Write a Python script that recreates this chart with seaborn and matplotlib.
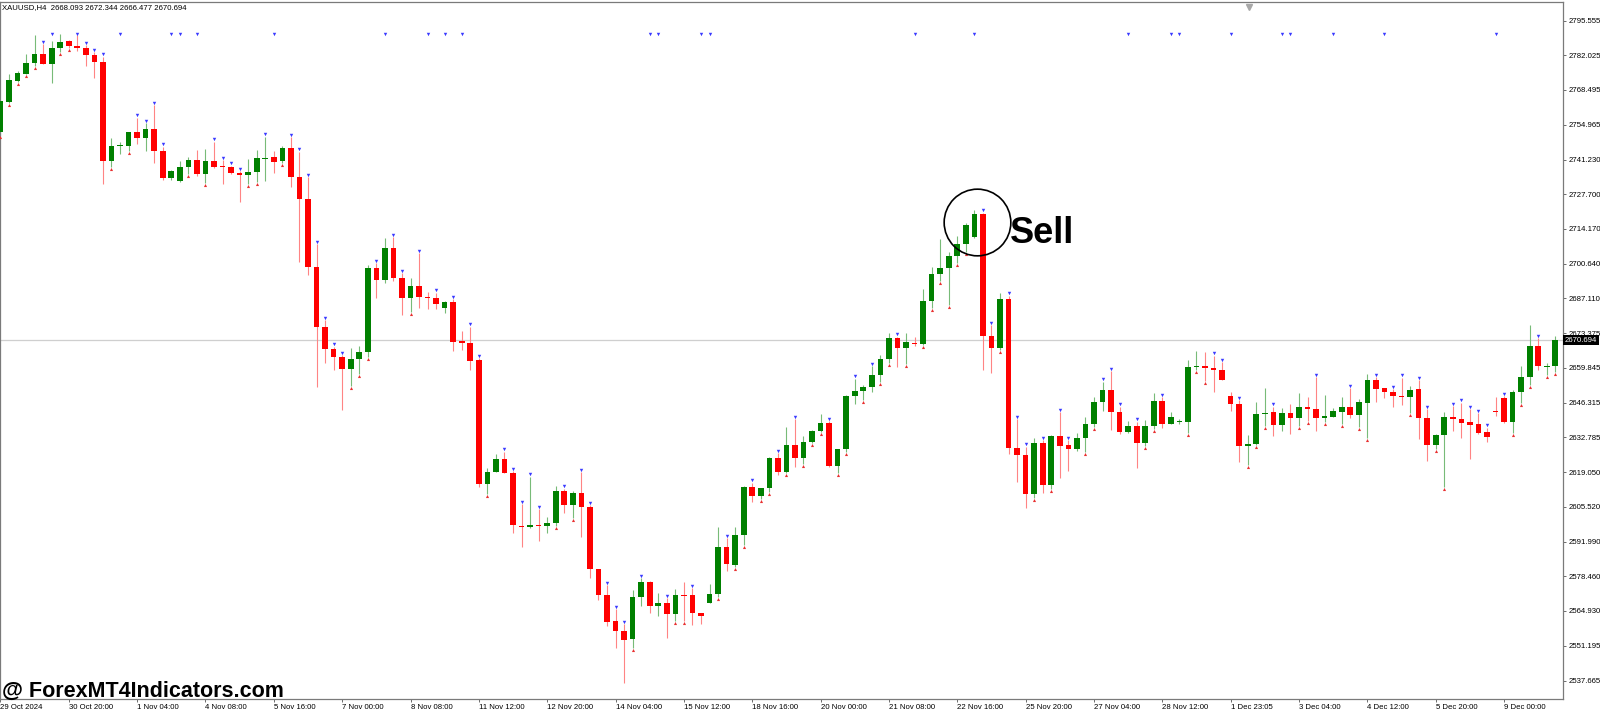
import numpy as np
import pandas as pd
import matplotlib
matplotlib.use('Agg')
import matplotlib.pyplot as plt
import matplotlib.transforms as mtransforms
import seaborn as sns

# XAUUSD H4 candles (open, high, low, close)
opens = [
    2751.92, 2763.91, 2772.12, 2774.72, 2778.89, 2782.41, 2778.63, 2784.75, 2787.62, 2785.66,
    2784.75, 2782.15, 2779.54, 2740.72, 2746.58, 2746.71, 2751.92, 2749.58, 2753.10, 2744.76,
    2734.21, 2732.90, 2738.25, 2741.11, 2735.77, 2740.72, 2738.64, 2738.38, 2736.16, 2735.25,
    2736.55, 2741.63, 2742.15, 2740.85, 2745.67, 2734.33, 2725.74, 2699.16, 2675.71, 2667.11,
    2663.99, 2659.30, 2663.34, 2666.20, 2698.77, 2694.21, 2706.85, 2695.12, 2687.31, 2692.00,
    2687.70, 2687.05, 2683.14, 2685.74, 2670.37, 2669.72, 2662.95, 2614.49, 2619.31, 2624.26,
    2618.92, 2598.21, 2597.82, 2598.60, 2598.21, 2599.12, 2611.63, 2606.42, 2610.84, 2605.38,
    2581.14, 2571.11, 2560.95, 2557.17, 2553.79, 2570.33, 2576.06, 2566.95, 2567.86, 2563.69,
    2571.11, 2570.98, 2564.08, 2568.12, 2571.50, 2589.87, 2582.83, 2594.56, 2613.19, 2609.93,
    2612.80, 2624.52, 2619.31, 2629.73, 2624.52, 2630.77, 2635.33, 2638.20, 2621.53, 2628.04,
    2648.88, 2650.97, 2652.27, 2656.96, 2663.21, 2671.42, 2667.77, 2669.47, 2669.21, 2686.14,
    2696.56, 2698.91, 2703.73, 2708.29, 2711.15, 2719.88, 2672.33, 2667.77, 2686.79, 2628.43,
    2625.82, 2610.45, 2630.38, 2614.10, 2633.38, 2629.60, 2628.04, 2632.34, 2637.81, 2646.40,
    2651.09, 2642.76, 2634.81, 2637.16, 2630.38, 2637.29, 2646.93, 2638.07, 2638.85, 2638.85,
    2660.21, 2660.73, 2659.69, 2659.04, 2649.01, 2645.88, 2629.47, 2629.99, 2641.98, 2642.63,
    2637.55, 2642.37, 2640.42, 2644.72, 2643.80, 2640.42, 2640.81, 2642.76, 2644.72, 2641.46,
    2646.28, 2655.14, 2651.88, 2650.58, 2648.89, 2648.62, 2651.49, 2640.16, 2629.73, 2633.64,
    2640.81, 2639.76, 2638.59, 2637.81, 2634.81, 2643.15, 2647.97, 2638.85, 2650.58, 2656.44,
    2668.42, 2660.35, 2660.61,
]
highs = [
    2764.56, 2774.59, 2775.89, 2782.41, 2789.96, 2786.31, 2787.62, 2790.22, 2788.01, 2789.96,
    2786.05, 2783.19, 2781.50, 2749.84, 2748.28, 2752.18, 2757.66, 2755.44, 2762.61, 2746.32,
    2737.07, 2740.72, 2742.41, 2745.02, 2745.41, 2748.28, 2741.11, 2738.90, 2736.81, 2741.37,
    2745.02, 2750.23, 2744.63, 2746.58, 2749.97, 2744.36, 2734.33, 2708.28, 2678.58, 2668.16,
    2664.77, 2667.51, 2668.42, 2700.07, 2700.72, 2710.49, 2710.88, 2696.82, 2694.86, 2704.63,
    2689.39, 2689.26, 2686.00, 2686.65, 2674.41, 2675.97, 2663.61, 2620.88, 2626.22, 2627.13,
    2619.57, 2606.68, 2617.36, 2604.59, 2601.47, 2613.71, 2612.67, 2611.89, 2619.05, 2606.29,
    2581.40, 2575.02, 2565.51, 2559.78, 2573.07, 2577.63, 2576.45, 2571.77, 2569.81, 2573.59,
    2576.06, 2573.72, 2564.21, 2575.41, 2597.56, 2593.26, 2597.55, 2613.71, 2615.01, 2613.06,
    2625.17, 2626.48, 2636.64, 2639.76, 2633.25, 2635.59, 2641.85, 2639.11, 2628.17, 2649.20,
    2655.66, 2653.18, 2660.61, 2664.91, 2673.64, 2672.07, 2673.64, 2672.07, 2690.70, 2699.17,
    2710.11, 2705.29, 2711.41, 2716.36, 2721.57, 2720.53, 2676.63, 2689.00, 2688.09, 2639.89,
    2629.08, 2632.34, 2631.68, 2633.64, 2642.50, 2631.68, 2634.29, 2640.67, 2648.62, 2654.48,
    2658.65, 2644.71, 2639.11, 2638.85, 2639.50, 2649.93, 2648.36, 2642.50, 2639.89, 2662.95,
    2666.60, 2665.95, 2664.64, 2662.04, 2650.31, 2647.32, 2633.64, 2646.67, 2651.88, 2644.72,
    2644.06, 2645.63, 2650.19, 2648.36, 2656.18, 2649.27, 2644.06, 2648.36, 2651.88, 2647.71,
    2657.35, 2656.18, 2652.14, 2651.49, 2656.05, 2652.79, 2655.14, 2643.67, 2633.90, 2642.63,
    2644.97, 2646.28, 2643.67, 2642.11, 2636.51, 2648.62, 2648.88, 2651.23, 2660.61, 2676.63,
    2671.42, 2661.91, 2672.34,
]
lows = [
    2750.88, 2763.52, 2771.72, 2774.59, 2777.98, 2778.50, 2771.07, 2783.45, 2784.75, 2783.71,
    2777.98, 2773.29, 2731.60, 2738.51, 2743.33, 2744.63, 2747.23, 2744.63, 2739.81, 2733.30,
    2733.30, 2732.64, 2735.51, 2734.99, 2731.99, 2737.85, 2731.60, 2735.77, 2724.83, 2731.86,
    2732.64, 2733.03, 2736.16, 2739.81, 2730.69, 2701.37, 2696.16, 2652.52, 2661.64, 2659.04,
    2643.40, 2652.78, 2657.47, 2664.25, 2687.31, 2692.91, 2693.95, 2680.40, 2681.84, 2683.40,
    2682.75, 2683.01, 2681.44, 2666.59, 2666.85, 2659.04, 2613.45, 2610.59, 2619.05, 2618.66,
    2595.21, 2589.74, 2597.43, 2592.35, 2595.21, 2598.08, 2603.29, 2601.07, 2593.65, 2577.63,
    2569.16, 2559.00, 2550.53, 2536.85, 2550.27, 2566.95, 2563.95, 2563.04, 2554.44, 2560.95,
    2561.08, 2559.39, 2559.78, 2567.86, 2570.20, 2580.49, 2582.18, 2590.65, 2607.59, 2608.50,
    2611.50, 2618.01, 2618.66, 2621.27, 2622.31, 2630.38, 2634.81, 2621.00, 2618.92, 2627.13,
    2645.63, 2647.32, 2650.58, 2654.49, 2661.91, 2660.35, 2661.26, 2668.42, 2668.81, 2683.14,
    2693.96, 2684.45, 2700.99, 2705.29, 2710.76, 2659.04, 2658.00, 2666.86, 2626.08, 2615.40,
    2605.24, 2608.89, 2610.84, 2612.54, 2616.70, 2619.57, 2627.52, 2627.13, 2636.90, 2643.15,
    2635.59, 2633.90, 2634.42, 2620.87, 2629.47, 2635.85, 2636.24, 2637.81, 2637.81, 2634.29,
    2659.04, 2654.74, 2650.57, 2655.13, 2643.15, 2622.96, 2621.92, 2629.73, 2637.16, 2633.38,
    2635.34, 2634.16, 2637.16, 2639.24, 2635.34, 2638.85, 2640.55, 2637.81, 2640.42, 2636.64,
    2632.34, 2646.67, 2648.23, 2644.46, 2645.37, 2642.11, 2631.95, 2623.61, 2628.04, 2613.19,
    2635.33, 2632.34, 2624.13, 2633.99, 2631.04, 2641.07, 2638.46, 2634.29, 2646.02, 2653.18,
    2659.04, 2657.09, 2658.39,
]
closes = [
    2764.17, 2772.38, 2774.98, 2778.89, 2782.41, 2778.63, 2784.75, 2787.36, 2785.66, 2784.75,
    2782.15, 2779.54, 2740.72, 2746.71, 2746.97, 2751.92, 2749.58, 2753.10, 2744.76, 2734.21,
    2736.81, 2738.25, 2741.11, 2735.77, 2740.72, 2738.51, 2738.25, 2736.03, 2735.25, 2736.55,
    2741.76, 2742.02, 2740.46, 2745.67, 2734.33, 2725.74, 2699.16, 2675.71, 2667.11, 2663.99,
    2659.30, 2663.34, 2666.20, 2698.77, 2694.21, 2706.85, 2695.12, 2687.31, 2692.00, 2687.57,
    2687.18, 2684.83, 2685.74, 2670.11, 2669.72, 2662.68, 2614.49, 2619.31, 2624.26, 2618.92,
    2598.47, 2597.82, 2598.34, 2598.21, 2599.12, 2611.63, 2606.16, 2610.84, 2605.38, 2581.14,
    2571.11, 2560.69, 2557.17, 2553.53, 2570.33, 2576.06, 2566.82, 2567.86, 2563.69, 2570.98,
    2570.85, 2563.95, 2562.91, 2571.50, 2589.87, 2583.10, 2594.56, 2613.19, 2609.93, 2612.80,
    2624.52, 2619.31, 2629.73, 2624.52, 2630.77, 2635.33, 2638.20, 2621.53, 2628.04, 2648.88,
    2650.97, 2652.27, 2656.96, 2663.21, 2671.42, 2667.77, 2669.86, 2669.21, 2686.14, 2696.56,
    2698.91, 2703.73, 2708.29, 2715.71, 2719.88, 2672.33, 2667.77, 2686.79, 2628.43, 2625.82,
    2610.45, 2630.38, 2614.10, 2633.38, 2629.47, 2628.04, 2632.34, 2637.81, 2646.67, 2651.09,
    2642.76, 2634.81, 2637.29, 2630.38, 2637.29, 2646.93, 2638.07, 2640.67, 2639.11, 2660.21,
    2660.60, 2659.69, 2659.04, 2655.26, 2645.88, 2629.34, 2629.99, 2641.98, 2642.37, 2637.55,
    2642.37, 2640.42, 2644.72, 2643.67, 2640.42, 2641.07, 2642.89, 2644.72, 2641.46, 2646.41,
    2655.14, 2651.62, 2650.32, 2649.02, 2648.49, 2651.23, 2640.42, 2629.73, 2633.64, 2640.81,
    2639.76, 2638.46, 2637.42, 2634.55, 2632.99, 2642.76, 2638.85, 2650.58, 2656.44, 2668.42,
    2660.61, 2660.74, 2670.69,
]

# one time label every 8 bars
date_labels = [
    '29 Oct 2024', '30 Oct 20:00', '1 Nov 04:00', '4 Nov 08:00', '5 Nov 16:00', '7 Nov 00:00',
    '8 Nov 08:00', '11 Nov 12:00', '12 Nov 20:00', '14 Nov 04:00', '15 Nov 12:00',
    '18 Nov 16:00', '20 Nov 00:00', '21 Nov 08:00', '22 Nov 16:00', '25 Nov 20:00',
    '27 Nov 04:00', '28 Nov 12:00', '1 Dec 23:05', '3 Dec 04:00', '4 Dec 12:00',
    '5 Dec 20:00', '9 Dec 00:00',
]
price_ticks = [
    2795.555, 2782.025, 2768.495, 2754.965, 2741.230, 2727.700, 2714.170, 2700.640,
    2687.110, 2673.375, 2659.845, 2646.315, 2632.785, 2619.050, 2605.520, 2591.990,
    2578.460, 2564.930, 2551.195, 2537.665,
]
last_price = 2670.694
header = 'XAUUSD,H4  2668.093 2672.344 2666.477 2670.694'

# indicator arrows: bars shown in the top row, bars with the opposite arrow, bars without one
top_marks = [6, 9, 14, 20, 21, 23, 32, 45, 50, 52, 54, 76, 77, 82, 83, 107, 114, 132, 137,
             138, 144, 150, 151, 156, 162, 175]
flip_marks = [8, 17, 31, 62, 75, 80, 100, 102, 129, 141, 153]
no_marks = [58, 64, 70, 126]

sns.set_theme(style='white')
plt.rcParams['font.family'] = ['Liberation Sans', 'DejaVu Sans']

df = pd.DataFrame({'open': opens, 'high': highs, 'low': lows, 'close': closes})
df['idx'] = np.arange(len(df))
df['up'] = df['close'] >= df['open']

fig = plt.figure(figsize=(16, 7.11), dpi=100)
ax = fig.add_axes([0, 11.7 / 711, 1563 / 1600, 697.6 / 711])

# current price line
ax.axhline(last_price, color='#cfcfcf', lw=0.9, zorder=0)

# wicks then bodies
wick_col = np.where(df['up'], '#78bb78', '#ff8484')
ax.vlines(df['idx'], df['low'], df['high'], colors=wick_col, lw=0.8, zorder=2)
body_lo = df[['open', 'close']].min(axis=1)
body_h = (df['close'] - df['open']).abs().clip(lower=0.45)
body_col = np.where(df['up'], '#008000', '#ff0000')
ax.bar(df['idx'], body_h, bottom=body_lo, width=0.66, color=body_col, linewidth=0, zorder=3)

# arrows
blue_x, blue_y, red_x, red_y, top_x = [], [], [], [], []
for i, r in df.iterrows():
    if i in no_marks:
        continue
    if i in top_marks:
        top_x.append(i)
        continue
    bear = not r['up']
    if i in flip_marks:
        bear = not bear
    if bear:
        blue_x.append(i)
        blue_y.append(r['high'] + 0.9)
    else:
        red_x.append(i)
        red_y.append(r['low'] - 0.8)

sns.scatterplot(x=blue_x, y=blue_y, marker='v', color='#3a3aff', s=6, linewidth=0, ax=ax, zorder=4)
sns.scatterplot(x=red_x, y=red_y, marker='^', color='#e83030', s=5, linewidth=0, ax=ax, zorder=4)
sns.scatterplot(x=top_x, y=[2790.4] * len(top_x), marker='v', color='#3a3aff', s=6,
                linewidth=0, ax=ax, zorder=4)

ax.set_xlim(-0.05, 182.9)
ax.set_ylim(2530.35, 2802.98)

# axes styling like the terminal
for s in ax.spines.values():
    s.set_color('#7a7a7a')
    s.set_linewidth(0.9)
ax.yaxis.tick_right()
ax.set_yticks(price_ticks)
ax.set_yticklabels([f'{p:.3f}' for p in price_ticks])
ax.set_xticks(np.arange(0, len(df), 8)[:len(date_labels)])
ax.set_xticklabels(date_labels)
for lab in ax.get_xticklabels():
    lab.set_ha('left')
ax.tick_params(axis='both', length=2.5, width=0.6, color='#555555', labelsize=5.6,
               labelcolor='black', pad=1.2)
ax.tick_params(axis='y', right=True, left=False)
ax.tick_params(axis='x', bottom=True)
ax.set_xlabel('')
ax.set_ylabel('')
ax.grid(False)

# last price box on the scale
trans = mtransforms.blended_transform_factory(ax.transAxes, ax.transData)
ax.text(1.0012, last_price, f'{last_price:.3f}', transform=trans, ha='left', va='center',
        fontsize=5.6, color='white', clip_on=False, zorder=6,
        bbox=dict(facecolor='black', edgecolor='none', pad=1.0))

# chart shift marker
ax.plot([146.1], [0.992], marker='v', color='#a8a8a8', ms=4.5,
        transform=mtransforms.blended_transform_factory(ax.transData, ax.transAxes),
        clip_on=False)

# annotation: circle and "Sell"
ax.plot([114.26], [2716.7], marker='o', ms=48, mfc='none', mec='black', mew=1.2, zorder=5)
fig.text(1010 / 1600, 1 - 243 / 711, 'Sell', fontsize=26, fontweight='bold', color='black',
         ha='left', va='baseline')

fig.text(2 / 1600, 1 - 7.5 / 711, header, fontsize=5.6, color='black', ha='left', va='center')
fig.text(2 / 1600, 1 - 697 / 711, '@ ForexMT4Indicators.com', fontsize=15.5,
         fontweight='bold', color='black', ha='left', va='baseline')

fig.savefig('out.png', dpi=100)
